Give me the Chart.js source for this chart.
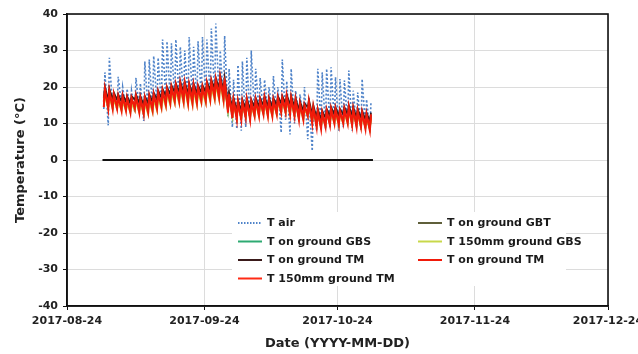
<!DOCTYPE html>
<html>
<head>
<meta charset="utf-8">
<script src="https://cdn.jsdelivr.net/npm/chart.js@4.4.0/dist/chart.umd.min.js"></script>
<style>
  html, body { margin: 0; padding: 0; background: #fff; }
  #wrap { width: 638px; height: 354px; }
</style>
</head>
<body>
<div id="wrap"><canvas id="tempChart" width="638" height="354"></canvas></div>
<script>
// x values are days since 2017-08-24; data runs 2017-09-01 .. 2017-10-31 (day 8 .. 68)
var firstDay = 8;
var xTickDays = [0, 31, 61, 92, 122];
var xTickLabels = ['2017-08-24', '2017-09-24', '2017-10-24', '2017-11-24', '2017-12-24'];

// daily max / min, one value per day
var airMax = [24,28,18,22.8,20,19.5,19,22.5,21,27,27.5,28.5,28,33,32.5,32,33,31,30,33.7,31,32.5,33.7,33,36,37.4,30,34,25,22,26,27,28,30,25,22.5,22,20,23,20,27.5,21.6,25,19,18,20,17,15,25,24,25,25.4,22.7,22.2,21.8,24.5,19,18.5,22.2,16.6,16];
var airMin = [14,9.5,14,13.5,15,14,13.5,13,14,10.7,13,14,15,15,16,16,16.5,16,16,16.5,16,16,17,16.5,17,17.5,17,16,12,9,8.5,8,9,10,12,13,12.5,13,13,12,7.5,11,7,10,12,11,5.7,2.5,8,9,8.5,9,10,8,9,10,8,9,8,9,8];

var gbtMax = [19,18.5,17.5,17,17,16.5,16.5,17,16.5,16.5,17,17.5,18,18.5,19,19.5,20,20.5,20.5,20,20,19.5,19.5,20.5,21,21.5,22,21.5,17.5,16,15.5,15.5,16,15.5,16,16,16.5,16,16,16.5,16.5,17,16.5,16,15,14.5,15.5,14,13,12.5,13,13.5,13.5,13,13.5,14,13.5,13,12.5,12,12];
var gbtMin = [15,14.5,14.5,14.5,14,14,13.5,14.5,13.5,13,13.5,14,14.5,15,15.5,16,16.5,16.5,16.5,16,16,16,16.5,16.5,17,17.5,17.5,17,13.5,12,11.5,11.5,12,11.5,12.5,12.5,13,12.5,12.5,13,13.5,13.5,13,12.5,11.5,11.5,12.5,10.5,9.5,9,9.5,10,10.5,10,10.5,10.5,10,9.5,9.5,9,8.5];

var gbsMax = [18.5,18,17,16.5,16.5,16,16,16.5,16,16,16.5,17,17.5,18,18.5,19,19.5,20,20,19.5,19.5,19,19,20,20.5,21,21.5,21,17,15.5,15,15,15.5,15,15.5,15.5,16,15.5,15.5,16,16,16.5,16,15.5,14.5,14,15,13.5,12.5,12,12.5,13,13,12.5,13,13.5,13,12.5,12,11.5,11.5];
var gbsMin = [15,14.5,14.5,14.5,14,14,13.5,14,13.5,13,13.5,14,14.5,15,15.5,16,16.5,16.5,16.5,16,16,16,16.5,16.5,17,17.5,17.5,17,13.5,12,11.5,11.5,12,11.5,12.5,12.5,13,12.5,12.5,13,13.5,13.5,13,12.5,11.5,11.5,12.5,10.5,9.5,9,9.5,10,10.5,10,10.5,10.5,10,9.5,9.5,9,8.5];

var gbs150Max = [18,17.5,16.5,16,16,15.5,15.5,16,15.5,15.5,16,16.5,17,17.5,18,18.5,19,19.5,19.5,19,19,18.5,18.5,19.5,20,20.5,21,20.5,17,15.5,15,15,15.5,15,15.5,15.5,16,15.5,15.5,16,16,16.5,16,15.5,14.5,14,15,13.5,12.5,12,12.5,13,13,12.5,13,13.5,13,12.5,12,11.5,11.5];
var gbs150Min = [14.5,14,14,14,13.5,13.5,13,13.5,13,12.5,12.5,13,13.5,14,14.5,15,15.5,15.5,15.5,15,15,15,15.5,15.5,16,16.5,16.5,16,13.5,12,11.5,11.5,12,11.5,12,12,12.5,12,12,12.5,13,13,12.5,12,11.5,11,12,10.5,9.5,9,9.5,10,10,9.5,10,10,9.5,9.5,9,9,8.5];

var tmDarkMax = [20,19.5,18.5,18,18,17.5,17.5,18,17.5,17.5,18,18.5,19,19.5,20,20.5,21,21.5,21.5,21,21,20.5,20.5,21.5,22,22.5,23,22.5,18.5,17,16.5,16.5,17,16.5,17,17,17.5,17,17,17.5,17.5,18,17.5,17,16,15.5,16.5,15,14,13.5,14,14.5,14.5,14,14.5,15,14.5,14,13.5,13,13];
var tmDarkMin = [17,16.5,16.5,16.5,16,16,15.5,16.5,15.5,15,15.5,16,16.5,17,17.5,18,18.5,18.5,18.5,18,18,18,18.5,18.5,19,19.5,19.5,19,15.5,14,13.5,13.5,14,13.5,14.5,14.5,15,14.5,14.5,15,15.5,15.5,15,14.5,13.5,13.5,14.5,12.5,11.5,11,11.5,12,12.5,12,12.5,12.5,12,11.5,11.5,11,10.5];

var tmMax = [19.5,19,18,17.5,17.5,17,17,17.5,17,17,17.5,18,18.5,19,19.5,20,20.5,21,21,20.5,20.5,20,20,21,21.5,22,22.5,22,18,16.5,16,16,16.5,16,16.5,16.5,17,16.5,16.5,17,17,17.5,17,16.5,15.5,15,16,14.5,13.5,13,13.5,14,14,13.5,14,14.5,14,13.5,13,12.5,12.5];
var tmMin = [14.5,14,14,14,13.5,13.5,13,14,13,12.5,13,13.5,14,14.5,15,15.5,16,16,16,15.5,15.5,15.5,16,16,16.5,17,17,16.5,13,11.5,11,11,11.5,11,12,12,12.5,12,12,12.5,13,13,12.5,12,11,11,12,10,9,8.5,9,9.5,10,9.5,10,10,9.5,9,9,8.5,8];

var tm150Max = [18.5,18,17,16.5,16.5,16,16,16.5,16,16,16.5,17,17.5,18,18.5,19,19.5,20,20,19.5,19.5,19,19,20,20.5,21,21.5,21,17,15.5,15,15,15.5,15,15.5,15.5,16,15.5,15.5,16,16,16.5,16,15.5,14.5,14,15,13.5,12.5,12,12.5,13,13,12.5,13,13.5,13,12.5,12,11.5,11.5];
var tm150Min = [16,15.5,15.5,15.5,15,15,14.5,15.5,14.5,14,14.5,15,15.5,16,16.5,17,17.5,17.5,17.5,17,17,17,17.5,17.5,18,18.5,18.5,18,14.5,13,12.5,12.5,13,12.5,13.5,13.5,14,13.5,13.5,14,14.5,14.5,14,13.5,12.5,12.5,13.5,11.5,10.5,10,10.5,11,11.5,11,11.5,11.5,11,10.5,10.5,10,9.5];

var zeroLineDays = [8, 69];

// turn daily min / max into points: min early in the day, max in the afternoon
function dailyPoints(maxArr, minArr) {
    var pts = [];
    for (var i = 0; i < maxArr.length; i++) {
        pts.push({ x: firstDay + i + 0.3, y: minArr[i] });
        pts.push({ x: firstDay + i + 0.55, y: maxArr[i] });
    }
    return pts;
}

function series(label, maxArr, minArr, color, width, dash, order) {
    return {
        label: label,
        data: dailyPoints(maxArr, minArr),
        borderColor: color,
        borderWidth: width,
        borderDash: dash || [],
        pointRadius: 0,
        fill: false,
        tension: 0,
        order: order
    };
}

var datasets = [
    series('T air', airMax, airMin, '#4f83c9', 1.6, [2, 2], 9),
    series('T on ground GBT', gbtMax, gbtMin, '#5f5f3a', 1.6, null, 7),
    series('T on ground GBS', gbsMax, gbsMin, '#2eaa72', 1.6, null, 6),
    series('T 150mm ground GBS', gbs150Max, gbs150Min, '#c8d84a', 1.8, null, 5),
    series('T on ground TM', tmDarkMax, tmDarkMin, '#3a1a1a', 1.8, null, 4),
    series('T on ground TM', tmMax, tmMin, '#f01a0a', 2, null, 1),
    series('T 150mm ground TM', tm150Max, tm150Min, '#ff2a14', 2, null, 2),
    {
        label: 'zero',
        data: zeroLineDays.map(function(d) { return { x: d, y: 0 }; }),
        borderColor: '#111',
        borderWidth: 2.2,
        pointRadius: 0,
        order: 0
    }
];

// legend layout: [dataset index, column, row]
var legendLayout = [[0, 0, 0], [1, 1, 0], [2, 0, 1], [3, 1, 1], [4, 0, 2], [5, 1, 2], [6, 0, 3]];

var boxLegend = {
    id: 'boxLegend',
    afterDatasetsDraw: function(chart) {
        var ctx = chart.ctx;
        ctx.save();
        ctx.fillStyle = '#fff';
        ctx.fillRect(232, 212, 334, 74);
        ctx.font = 'bold 11px "DejaVu Sans", sans-serif';
        ctx.textBaseline = 'middle';
        legendLayout.forEach(function(item) {
            var ds = chart.data.datasets[item[0]];
            var lx = item[1] === 0 ? 238 : 418;
            var ly = 223 + item[2] * 18.5;
            ctx.strokeStyle = ds.borderColor;
            ctx.lineWidth = 2;
            ctx.setLineDash(ds.borderDash && ds.borderDash.length ? [1.5, 1.5] : []);
            ctx.beginPath();
            ctx.moveTo(lx, ly);
            ctx.lineTo(lx + 24, ly);
            ctx.stroke();
            ctx.setLineDash([]);
            ctx.fillStyle = '#1a1a1a';
            ctx.fillText(ds.label, lx + 29, ly + 0.5);
        });
        ctx.restore();
    }
};

// dark frame round the plot area
var plotFrame = {
    id: 'plotFrame',
    afterDraw: function(chart) {
        var a = chart.chartArea;
        var ctx = chart.ctx;
        ctx.save();
        ctx.strokeStyle = '#111';
        ctx.lineWidth = 1.6;
        ctx.strokeRect(a.left, a.top, a.right - a.left, a.bottom - a.top);
        ctx.restore();
    }
};

var tickFont = { family: '"DejaVu Sans", sans-serif', size: 11, weight: 'bold' };
var titleFont = { family: '"DejaVu Sans", sans-serif', size: 13, weight: 'bold' };

var ctx = document.getElementById('tempChart').getContext('2d');
var chart = new Chart(ctx, {
    type: 'line',
    data: { datasets: datasets },
    options: {
        responsive: false,
        animation: false,
        layout: { padding: { left: 13, right: 0, top: 14, bottom: 3 } },
        plugins: {
            legend: { display: false },
            tooltip: { enabled: false }
        },
        scales: {
            x: {
                type: 'linear',
                min: 0,
                max: 122,
                afterBuildTicks: function(scale) {
                    scale.ticks = xTickDays.map(function(v) { return { value: v }; });
                },
                afterFit: function(scale) {
                    scale.height = 45;
                    // let the last date label run close to the canvas edge, like the original
                    scale.paddingRight = 30;
                    scale.paddingLeft = 0;
                },
                ticks: {
                    color: '#222',
                    font: tickFont,
                    maxRotation: 0,
                    padding: 5,
                    callback: function(v) { return xTickLabels[xTickDays.indexOf(v)]; }
                },
                grid: { color: '#dcdcdc', tickLength: 4, tickColor: '#111' },
                border: { color: '#111', width: 1.6 },
                title: { display: true, text: 'Date (YYYY-MM-DD)', color: '#222', font: titleFont, padding: { top: 2, bottom: 0 } }
            },
            y: {
                min: -40,
                max: 40,
                afterFit: function(scale) { scale.width = 54; },
                ticks: { stepSize: 10, color: '#222', font: tickFont, padding: 5 },
                grid: { color: '#dcdcdc', tickLength: 4, tickColor: '#111' },
                border: { color: '#111', width: 1.6 },
                title: { display: true, text: 'Temperature (°C)', color: '#222', font: titleFont, padding: { top: 0, bottom: 2 } }
            }
        }
    },
    plugins: [boxLegend, plotFrame]
});
</script>
</body>
</html>
